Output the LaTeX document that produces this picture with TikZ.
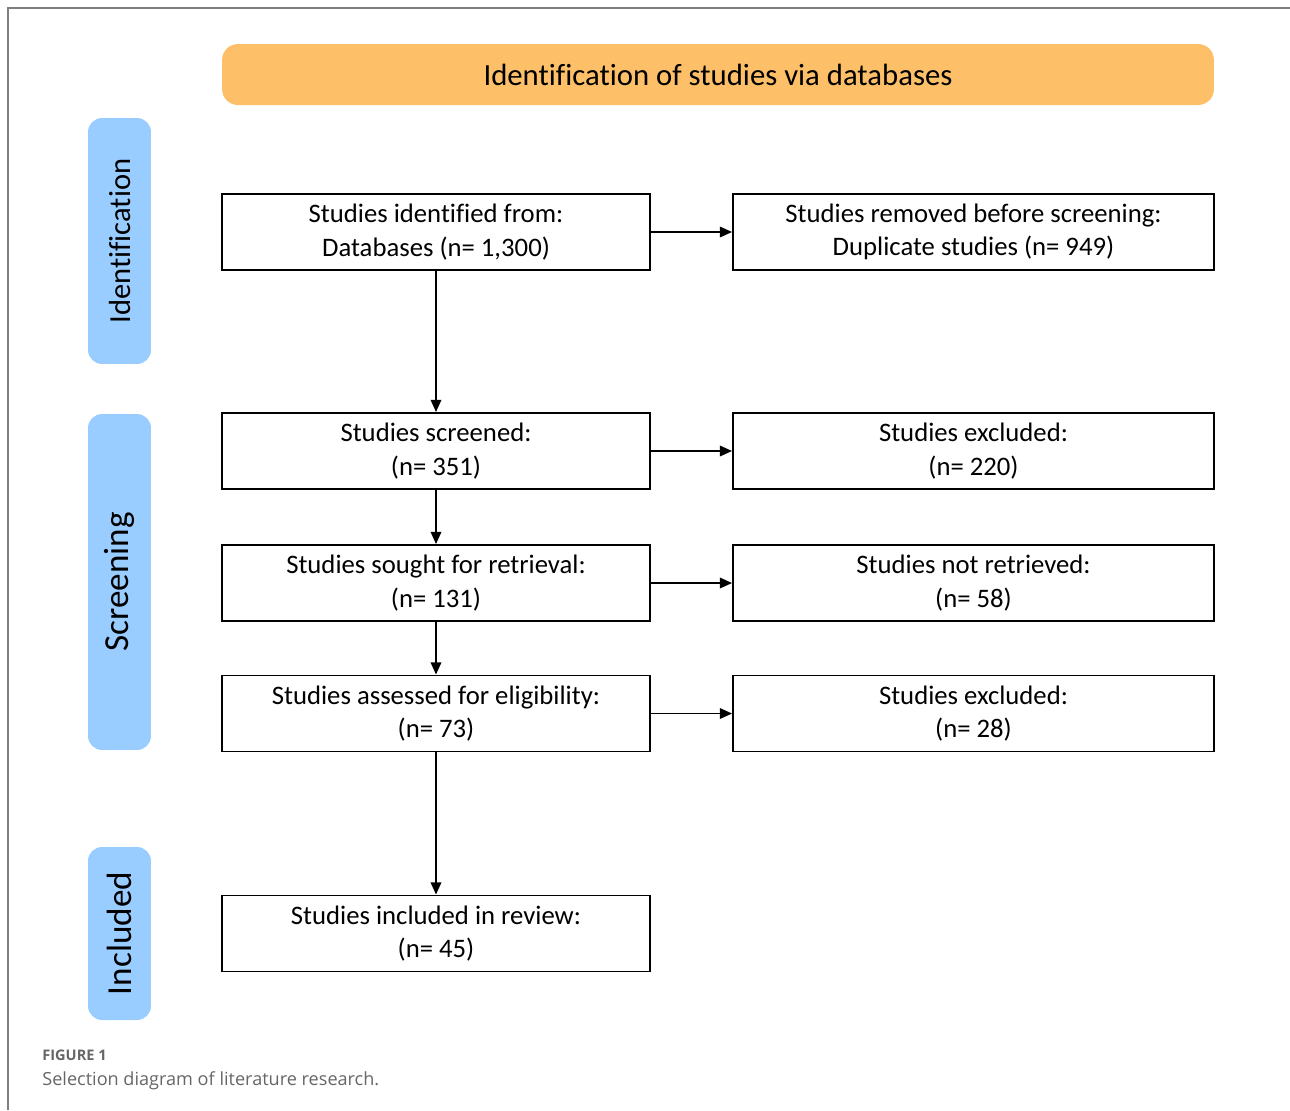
\documentclass[tikz,border=0pt]{standalone}
\usepackage{fontspec}
\setmainfont[Ligatures=NoCommon]{Carlito}
\newfontfamily\capfont{Open Sans}
\usetikzlibrary{arrows.meta}
\definecolor{bannerorange}{HTML}{FDC068}
\definecolor{phaseblue}{HTML}{99CCFF}
\definecolor{framegray}{HTML}{7F7F7F}
\definecolor{captiongray}{HTML}{666666}

\begin{document}
\begin{tikzpicture}[x=0.02cm, y=-0.02cm,
    every node/.style={font=\fontsize{15.2}{19}\selectfont},
    flowbox/.style={draw, line width=1.1pt, align=center, inner sep=0pt},
    leftbox/.style={flowbox, minimum width=8.56cm, minimum height=1.52cm},
    rightbox/.style={flowbox, minimum width=9.62cm, minimum height=1.52cm},
    phase/.style={fill=phaseblue, rounded corners=8pt, rotate=90,
      minimum height=1.26cm, inner sep=0pt, font=\fontsize{20}{22}\selectfont},
    flow/.style={-{Triangle[length=7pt, width=6pt]}, line width=1.1pt}]
        \useasboundingbox (0,0) rectangle (1290,1110);
        % frame
        \draw[framegray, line width=0.8pt] (8,1110) -- (8,8) -- (1290,8);
        % banner
        \node[fill=bannerorange, rounded corners=9pt, minimum width=19.84cm,
          minimum height=1.22cm, font=\fontsize{17.5}{20}\selectfont] (banner) at (718,74.5)
          {Identification of studies via databases};
        % phase bars
        \node[phase, minimum width=4.92cm, font=\fontsize{17.4}{20}\selectfont]
          (identification) at (119.5,241) {Identification};
        \node[phase, minimum width=6.72cm] (screening) at (119.5,582) {Screening};
        \node[phase, minimum width=3.46cm] (included) at (119.5,933.5) {Included};
        % left column
        \node[leftbox] (found) at (436,232) {Studies identified from:\\Databases (n= 1,300)};
        \node[leftbox] (screened) at (436,451) {Studies screened:\\(n= 351)};
        \node[leftbox] (sought) at (436,583) {Studies sought for retrieval:\\(n= 131)};
        \node[leftbox] (assessed) at (436,713.5) {Studies assessed for eligibility:\\(n= 73)};
        \node[leftbox] (review) at (436,933.5) {Studies included in review:\\(n= 45)};
        % right column
        \node[rightbox] (duplicates) at (973.5,232) {Studies removed before screening:\\Duplicate studies (n= 949)};
        \node[rightbox] (excluded) at (973.5,451) {Studies excluded:\\(n= 220)};
        \node[rightbox] (missing) at (973.5,583) {Studies not retrieved:\\(n= 58)};
        \node[rightbox] (ineligible) at (973.5,713.5) {Studies excluded:\\(n= 28)};
        % arrows
        \foreach \a/\b in {found/screened, screened/sought, sought/assessed, assessed/review}
          \draw[flow] (\a) -- (\b);
        \foreach \a/\b in {found/duplicates, screened/excluded, sought/missing, assessed/ineligible}
          \draw[flow] (\a) -- (\b);
        % caption
        \node[anchor=base west, inner sep=0pt, text=captiongray, font=\capfont\bfseries\fontsize{8.3}{10}\selectfont]
          (figlabel) at (42,1060) {FIGURE 1};
        \node[anchor=base west, inner sep=0pt, text=captiongray, font=\capfont\fontsize{10.3}{12}\selectfont]
          (caption) at (42,1085) {Selection diagram of literature research.};
      \end{tikzpicture}
\end{document}
